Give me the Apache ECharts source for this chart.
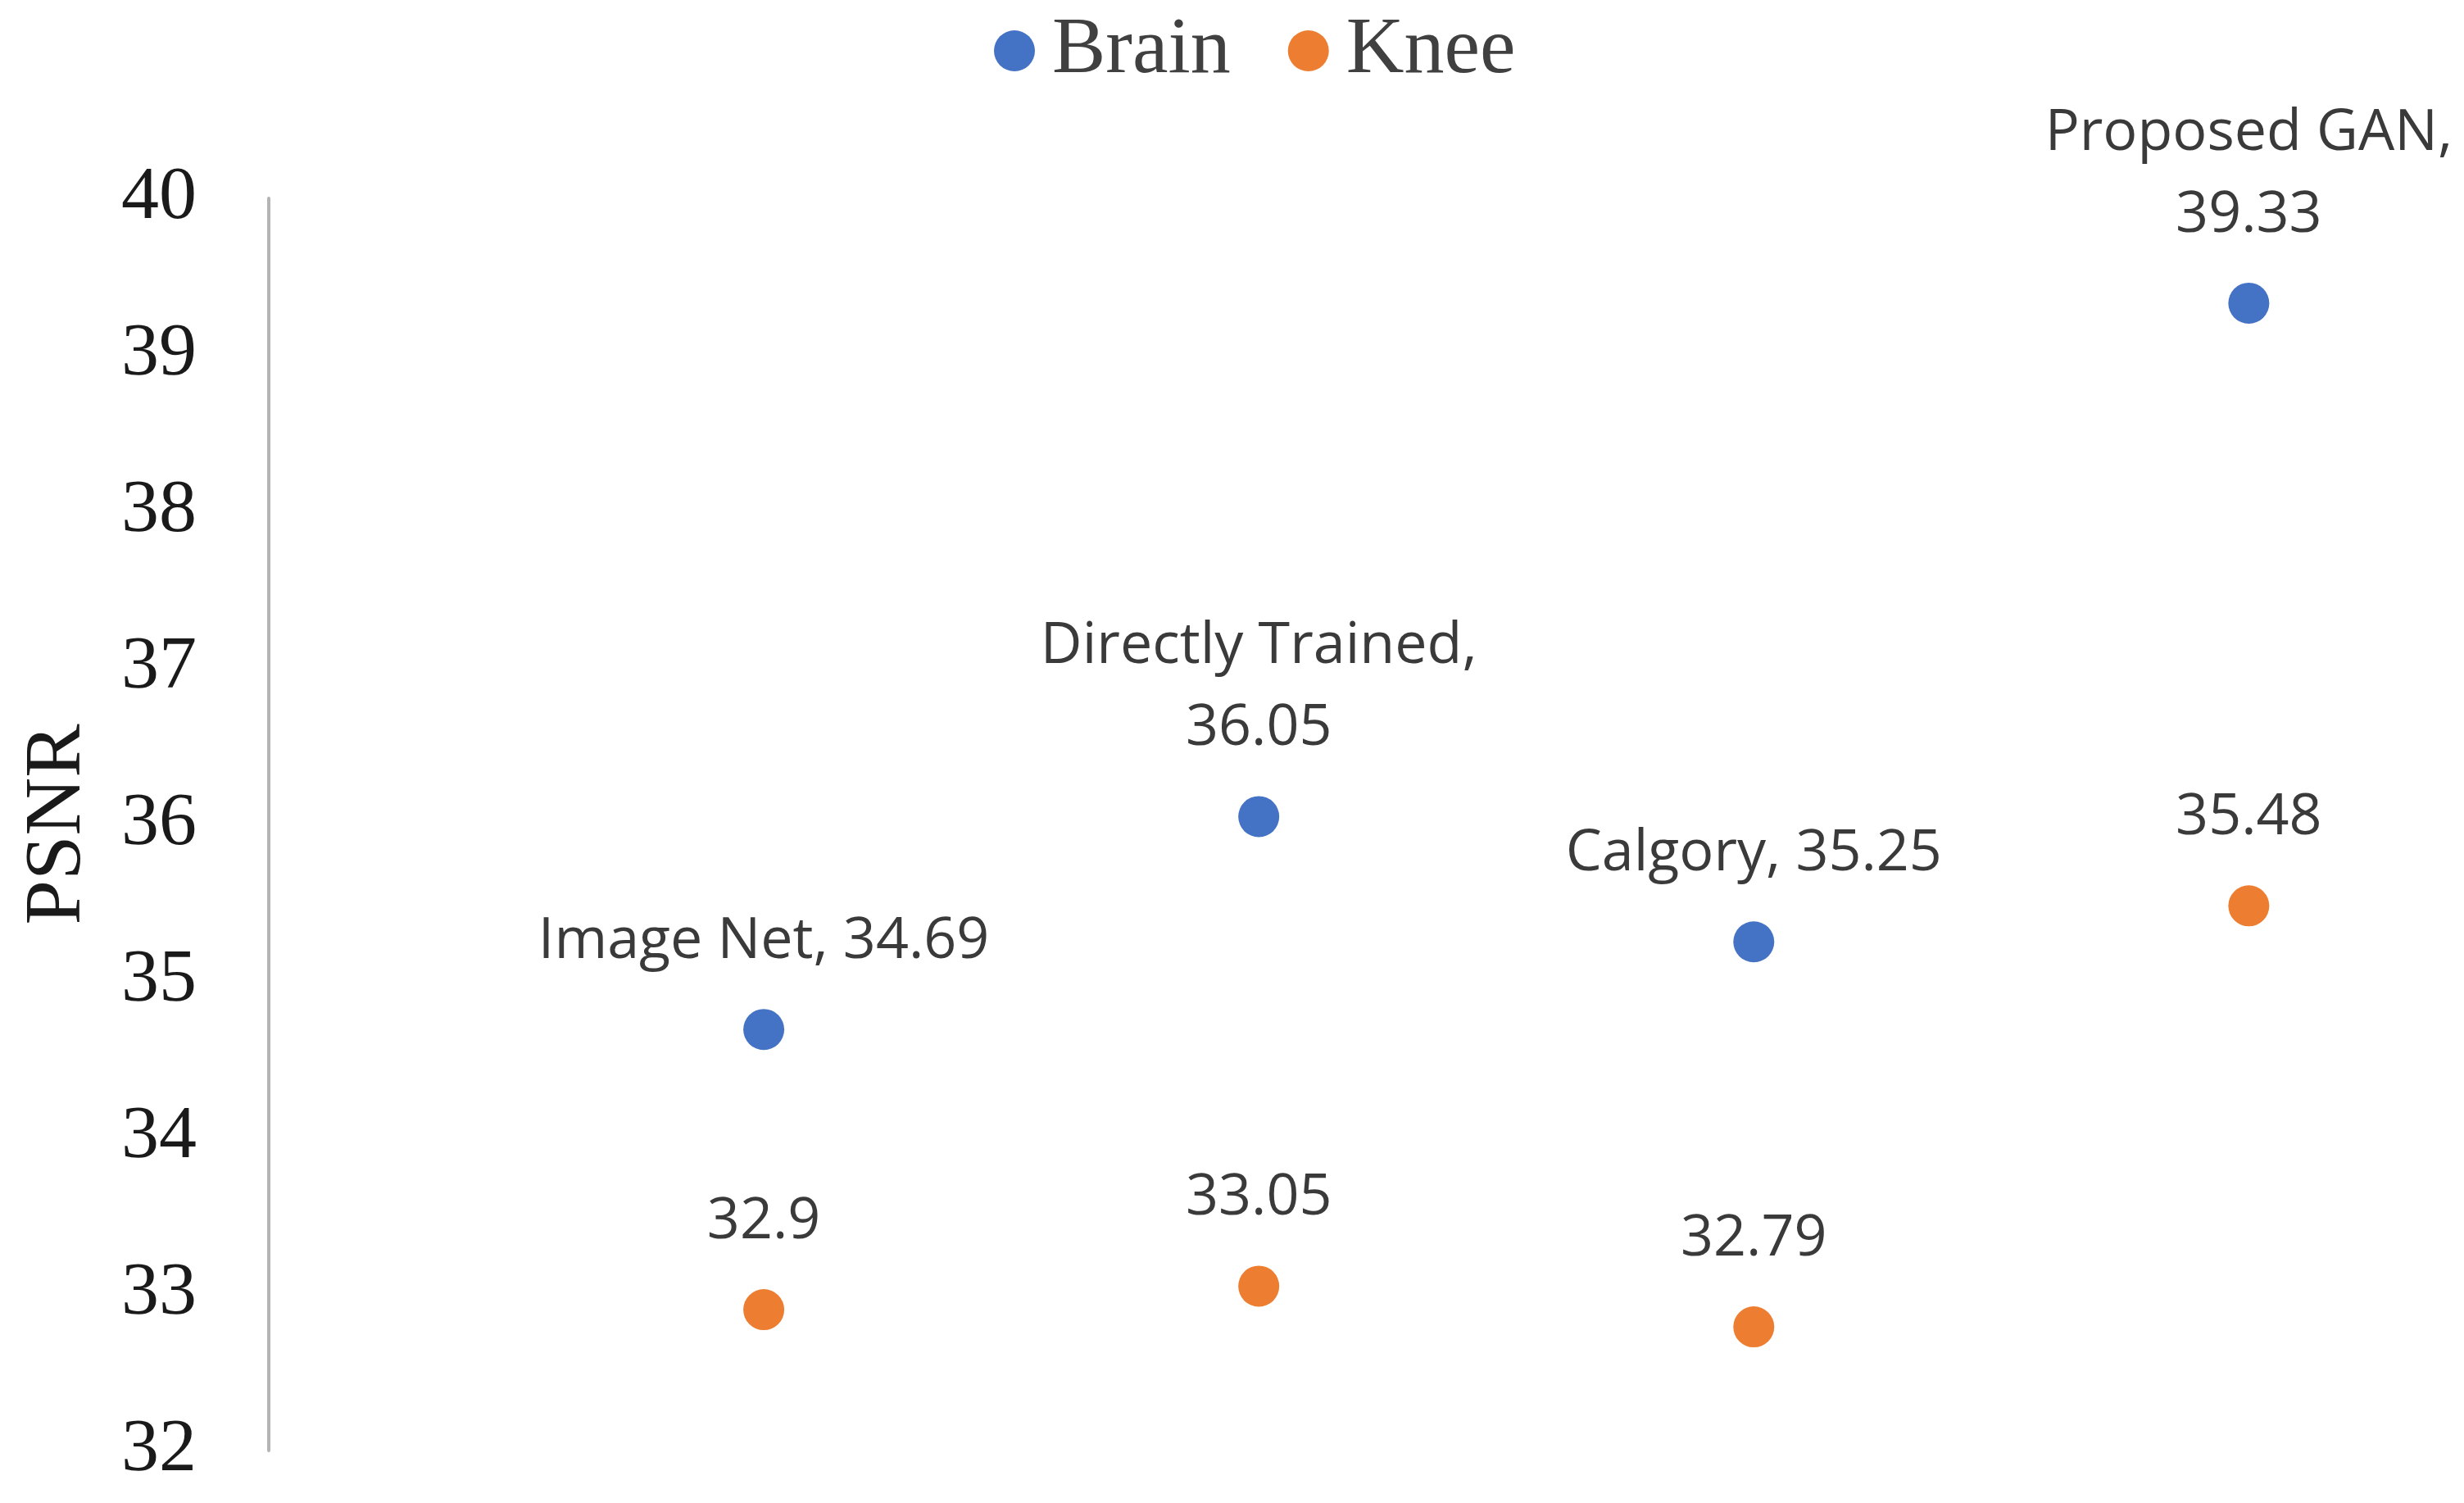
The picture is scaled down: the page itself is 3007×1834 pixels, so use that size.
<!DOCTYPE html>
<html>
<head>
<meta charset="utf-8">
<script src="https://cdn.jsdelivr.net/npm/echarts@6/dist/echarts.min.js"></script>
<style>
html,body{margin:0;padding:0;background:#fff;}
#chart{width:3007px;height:1834px;}
</style>
</head>
<body>
<div id="chart"></div>
<script>
const categories = ["Image Net", "Directly Trained", "Calgory", "Proposed GAN"];
const brainValues = [34.69, 36.05, 35.25, 39.33];
const kneeValues = [32.9, 33.05, 32.79, 35.48];
const yTicks = [32, 33, 34, 35, 36, 37, 38, 39, 40];

const toPoints = vals => vals.map((v, i) => ({ value: [i + 1, v], name: categories[i] }));

const chart = echarts.init(document.getElementById('chart'), null, { renderer: 'canvas' });

const labelBase = {
  show: true,
  position: 'top',
  distance: 32,
  color: '#3a3a3a',
  fontFamily: 'Open Sans',
  fontSize: 70,
  lineHeight: 100
};

chart.setOption({
  animation: false,
  backgroundColor: '#ffffff',
  legend: {
    left: 1208,
    top: 8,
    itemWidth: 50,
    itemHeight: 50,
    itemGap: 70,
    icon: 'circle',
    textStyle: {
      fontFamily: 'Liberation Serif',
      fontSize: 98,
      color: '#404040',
      padding: [0, 0, 0, 16]
    },
    data: ['Brain', 'Knee']
  },
  grid: { left: 328, top: 242, bottom: 64, right: 21 },
  xAxis: {
    type: 'value',
    min: 0,
    max: 4.4,
    show: false
  },
  yAxis: {
    type: 'value',
    min: yTicks[0],
    max: yTicks[yTicks.length - 1],
    interval: 1,
    name: 'PSNR',
    nameLocation: 'middle',
    nameGap: 208,
    nameTextStyle: {
      fontFamily: 'Liberation Serif',
      fontSize: 98,
      color: '#1a1a1a'
    },
    axisLine: { show: true, lineStyle: { color: '#b4b4b4', width: 4 } },
    axisTick: { show: false },
    splitLine: { show: false },
    axisLabel: {
      margin: 88,
      fontFamily: 'Liberation Serif',
      fontSize: 92,
      color: '#1a1a1a'
    }
  },
  series: [
    {
      name: 'Brain',
      type: 'scatter',
      symbol: 'circle',
      symbolSize: 50,
      itemStyle: { color: '#4472C4', opacity: 1 },
      data: toPoints(brainValues),
      label: Object.assign({}, labelBase, {
        formatter: p => p.name + ',' + (p.name.length > 10 ? '\n' : ' ') + p.value[1]
      })
    },
    {
      name: 'Knee',
      type: 'scatter',
      symbol: 'circle',
      symbolSize: 50,
      itemStyle: { color: '#ED7D31', opacity: 1 },
      data: toPoints(kneeValues),
      label: Object.assign({}, labelBase, {
        formatter: p => String(p.value[1])
      })
    }
  ]
});
</script>
</body>
</html>
